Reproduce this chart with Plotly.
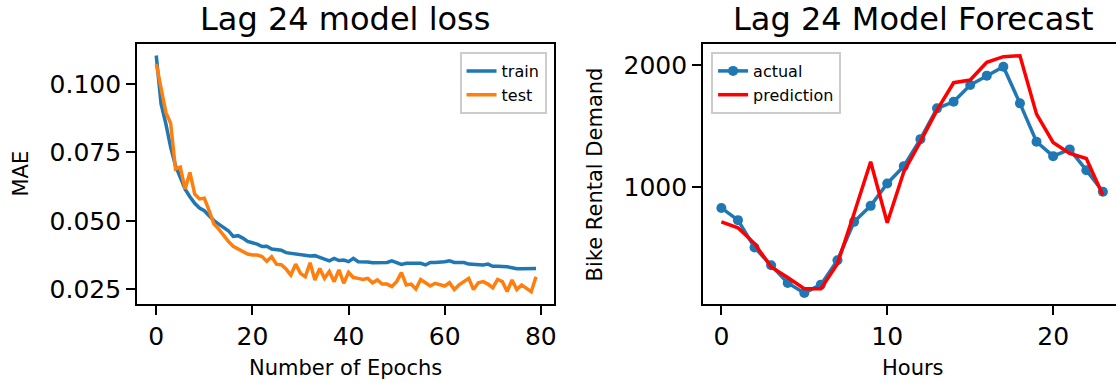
import plotly.graph_objects as go

epochs = list(range(80))
train_mae = [
    0.1104, 0.0927, 0.0854, 0.0769, 0.0702, 0.0659, 0.0616, 0.0588, 0.0564, 0.0547,
    0.0537, 0.0519, 0.0501, 0.0488, 0.0476, 0.0464, 0.0443, 0.0446, 0.0437, 0.0425,
    0.0420, 0.0415, 0.0406, 0.0407, 0.0397, 0.0395, 0.0393, 0.0384, 0.0381, 0.0381,
    0.0378, 0.0372, 0.0372, 0.0373, 0.0365, 0.0360, 0.0354, 0.0363, 0.0355, 0.0357,
    0.0351, 0.0363, 0.0351, 0.0351, 0.0350, 0.0347, 0.0347, 0.0347, 0.0348, 0.0354,
    0.0347, 0.0341, 0.0345, 0.0345, 0.0345, 0.0345, 0.0339, 0.0348, 0.0348, 0.0348,
    0.0351, 0.0354, 0.0348, 0.0348, 0.0348, 0.0342, 0.0341, 0.0341, 0.0339, 0.0342,
    0.0334, 0.0334, 0.0334, 0.0332, 0.0329, 0.0325, 0.0325, 0.0326, 0.0326, 0.0326,
]
test_mae = [
    0.1073, 0.0976, 0.0896, 0.0856, 0.0689, 0.0696, 0.0616, 0.0677, 0.0598, 0.0580,
    0.0583, 0.0537, 0.0488, 0.0470, 0.0446, 0.0425, 0.0407, 0.0397, 0.0389, 0.0379,
    0.0375, 0.0375, 0.0370, 0.0352, 0.0369, 0.0342, 0.0340, 0.0324, 0.0302, 0.0342,
    0.0308, 0.0296, 0.0347, 0.0284, 0.0326, 0.0290, 0.0315, 0.0278, 0.0321, 0.0272,
    0.0312, 0.0293, 0.0290, 0.0286, 0.0290, 0.0274, 0.0284, 0.0269, 0.0269, 0.0260,
    0.0278, 0.0311, 0.0266, 0.0269, 0.0251, 0.0286, 0.0274, 0.0262, 0.0272, 0.0266,
    0.0262, 0.0274, 0.0249, 0.0266, 0.0278, 0.0290, 0.0249, 0.0274, 0.0278, 0.0269,
    0.0255, 0.0286, 0.0278, 0.0242, 0.0284, 0.0249, 0.0266, 0.0255, 0.0241, 0.0296,
]

hours = list(range(24))
actual = [830, 730, 506, 361, 216, 134, 202, 402, 716, 847, 1030, 1172,
          1393, 1645, 1699, 1836, 1913, 1986, 1686, 1372, 1254, 1309, 1139, 962]
prediction = [716, 667, 538, 347, 260, 169, 169, 374, 784, 1208, 708, 1126,
              1372, 1631, 1855, 1877, 2022, 2068, 2076, 1598, 1366, 1276, 1235, 934]

left_xticks = [0, 20, 40, 60, 80]
left_yticks = [0.025, 0.050, 0.075, 0.100]
right_xticks = [0, 10, 20]
right_yticks = [1000, 2000]

W, H = 1119, 383
FONT = "DejaVu Sans"
BLUE = "#1f77b4"
ORANGE = "#ff7f0e"
RED = "#ff0000"

fig = go.Figure()
fig.add_trace(go.Scatter(x=epochs, y=train_mae, mode="lines", name="train",
                         line=dict(color=BLUE, width=3.5), xaxis="x", yaxis="y",
                         legend="legend"))
fig.add_trace(go.Scatter(x=epochs, y=test_mae, mode="lines", name="test",
                         line=dict(color=ORANGE, width=3.5), xaxis="x", yaxis="y",
                         legend="legend"))
fig.add_trace(go.Scatter(x=hours, y=actual, mode="lines+markers", name="actual",
                         line=dict(color=BLUE, width=3.5),
                         marker=dict(color=BLUE, size=10),
                         xaxis="x2", yaxis="y2", legend="legend2"))
fig.add_trace(go.Scatter(x=hours, y=prediction, mode="lines", name="prediction",
                         line=dict(color=RED, width=3.5),
                         xaxis="x2", yaxis="y2", legend="legend2"))

ytop, ybot = 44, 304
ydom = [1 - ybot / H, 1 - ytop / H]

axis_common = dict(showline=True, linecolor="black", linewidth=2, ticks="outside",
                   ticklen=9, tickwidth=2, tickcolor="black", showgrid=False,
                   zeroline=False, tickfont=dict(family=FONT, size=25, color="black"))

fig.update_layout(
    width=W, height=H,
    margin=dict(l=0, r=0, t=0, b=0),
    paper_bgcolor="white", plot_bgcolor="white",
    font=dict(family=FONT, color="black"),
    xaxis=dict(domain=[137.5 / W, 555.5 / W], range=[-3.98, 82.74],
               tickvals=left_xticks, mirror=True, anchor="y", **axis_common),
    yaxis=dict(domain=ydom, range=[0.01963, 0.11461], tickvals=left_yticks,
               tickformat=".3f", mirror=True, anchor="x", **axis_common),
    xaxis2=dict(domain=[705 / W, 1.0], range=[-1.10, 23.79],
                tickvals=right_xticks, mirror=True, anchor="y2", **axis_common),
    yaxis2=dict(domain=ydom, range=[43.4, 2172], tickvals=right_yticks,
                ticktext=[str(v) for v in right_yticks], mirror=False, anchor="x2",
                **axis_common),
    legend=dict(x=548 / W, y=1 - 52 / H, xanchor="right", yanchor="top",
                bgcolor="rgba(255,255,255,0.8)", bordercolor="#cccccc", borderwidth=2,
                font=dict(family=FONT, size=16, color="black")),
    legend2=dict(x=713 / W, y=1 - 52 / H, xanchor="left", yanchor="top",
                 bgcolor="rgba(255,255,255,0.8)", bordercolor="#cccccc", borderwidth=2,
                 font=dict(family=FONT, size=16, color="black")),
    showlegend=True,
)

annotations = [
    dict(text="Lag 24 model loss", x=346 / W, y=1 - 19 / H, size=32, angle=0),
    dict(text="Lag 24 Model Forecast", x=915 / W, y=1 - 19 / H, size=32, angle=0),
    dict(text="MAE", x=20.6 / W, y=1 - 174 / H, size=21, angle=-90),
    dict(text="Bike Rental Demand", x=597 / W, y=1 - 174 / H, size=21, angle=-90),
    dict(text="Number of Epochs", x=346 / W, y=1 - 368 / H, size=21, angle=0),
    dict(text="Hours", x=915 / W, y=1 - 368 / H, size=21, angle=0),
]
for a in annotations:
    fig.add_annotation(text=a["text"], x=a["x"], y=a["y"], xref="paper", yref="paper",
                       xanchor="center", yanchor="middle", showarrow=False,
                       textangle=a["angle"],
                       font=dict(family=FONT, size=a["size"], color="black"))

fig.write_html("out.html")
